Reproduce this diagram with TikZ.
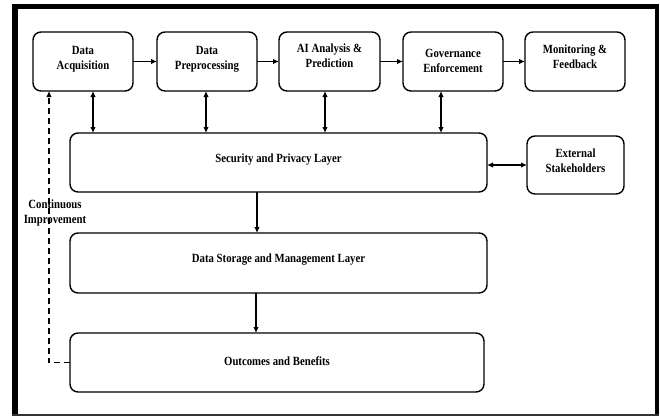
\documentclass[tikz,border=0pt]{standalone}
\usepackage{fontspec}
\setmainfont{Liberation Serif}[FakeStretch=0.86]
\usetikzlibrary{arrows.meta,calc}
\tikzset{
  box/.style={draw=black, line width=1.4pt, rounded corners=8pt, fill=white,
              inner sep=0pt, outer sep=0pt},
  lbl/.style={align=center, inner sep=0pt,
              font=\fontsize{12.5}{15}\selectfont\bfseries},
  arr/.style={line width=1.3pt, -{Latex[length=6pt,width=5.5pt]}},
  dbl/.style={line width=1.3pt, {Latex[length=6pt,width=5.5pt]}-{Latex[length=6pt,width=5.5pt]}},
  dsh/.style={line width=1.3pt, dash pattern=on 6pt off 4pt, -{Latex[length=6pt,width=5.5pt]}},
}
\begin{document}
\begin{tikzpicture}[x=1pt, y=-1pt]
\useasboundingbox (0,0) rectangle (660,416);
% outer frame
\fill[black] (12,4) rectangle (18,416);
\fill[black] (12,4) rectangle (659,9);
\fill[black] (655,4) rectangle (659,416);
\fill[black!80] (12,414.3) rectangle (659,415.5);

% pipeline stages
\node[box, minimum width=100pt, minimum height=59pt] (acq) at (83,61.5) {};
\node[box, minimum width=100pt, minimum height=59pt] (pre) at (207,61.5) {};
\node[box, minimum width=101pt, minimum height=59pt] (ai)  at (329.5,61.5) {};
\node[box, minimum width=100pt, minimum height=59pt] (gov) at (453,61.5) {};
\node[box, minimum width=100pt, minimum height=59pt] (mon) at (575,61.5) {};

% layers
\node[box, minimum width=417pt, minimum height=59pt] (sec) at (278.5,162.5) {};
\node[box, minimum width=97pt,  minimum height=58pt] (ext) at (575.5,165) {};
\node[box, minimum width=417pt, minimum height=60pt] (sto) at (278.5,263) {};
\node[box, minimum width=414pt, minimum height=59pt] (out) at (277,362.5) {};

% labels
\node[lbl] (tacq) at ([yshift=2pt]acq.center) {Data\\Acquisition};
\node[lbl] (tpre) at ([yshift=2pt]pre.center) {Data\\Preprocessing};
\node[lbl] (tai)  at ([yshift=6pt]ai.center)  {AI Analysis \&\\Prediction};
\node[lbl] (tgov) at ([yshift=1pt]gov.center) {Governance\\Enforcement};
\node[lbl] (tmon) at ([yshift=5pt]mon.center) {Monitoring \&\\Feedback};
\node[lbl] (tsec) at ([yshift=3pt]sec.center) {Security and Privacy Layer};
\node[lbl] (text) at ([yshift=4pt]ext.center) {External\\Stakeholders};
\node[lbl] (tsto) at ([yshift=3pt]sto.center) {Data Storage and Management Layer};
\node[lbl] (tout) at ([yshift=1.5pt]out.center) {Outcomes and Benefits};

% flow along the pipeline
\draw[arr] (acq) -- (pre);
\draw[arr] (pre) -- (ai);
\draw[arr] (ai) -- (gov);
\draw[arr] (gov) -- (mon);

% links to the security layer
\draw[dbl] ([xshift=10pt]acq.south) -- ([xshift=10pt]acq.south |- sec.north);
\draw[dbl] ([xshift=-1pt]pre.south) -- ([xshift=-1pt]pre.south |- sec.north);
\draw[dbl] ([xshift=-4.5pt]ai.south) -- ([xshift=-4.5pt]ai.south |- sec.north);
\draw[dbl] ([xshift=-12pt]gov.south) -- ([xshift=-12pt]gov.south |- sec.north);
\draw[dbl] (sec.east |- ext.west) -- (ext.west);

% downward flow through the layers
\draw[arr] ([xshift=-21.5pt]sec.south) -- ([xshift=-21.5pt]sec.south |- sto.north);
\draw[arr] ([xshift=-22.5pt]sto.south) -- ([xshift=-22.5pt]sto.south |- out.north);

% feedback loop
\draw[dsh] (out.west) -| ([xshift=-34pt]acq.south);
\node[lbl] (tci) at (55,213) {Continuous\\Improvement};
\end{tikzpicture}
\end{document}
